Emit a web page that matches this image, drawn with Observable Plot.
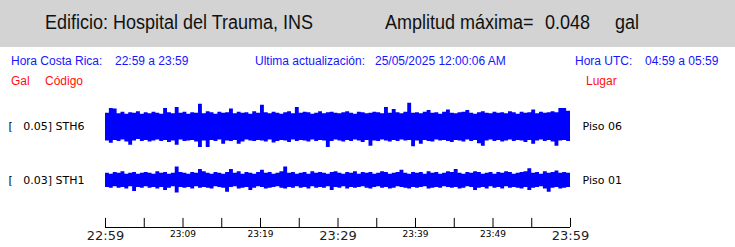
<!DOCTYPE html>
<html>
<head>
<meta charset="utf-8">
<script src="https://cdn.jsdelivr.net/npm/d3@7"></script>
<script src="https://cdn.jsdelivr.net/npm/@observablehq/plot@0.6"></script>
<style>
  html, body { margin: 0; padding: 0; background: #fff; }
  #page { position: relative; width: 735px; height: 247px; overflow: hidden; font-family: "Liberation Sans", Arial, sans-serif; }
  #band { position: absolute; left: 0; top: 0; width: 735px; height: 47px; background: #d3d3d3; }
  .t { position: absolute; white-space: pre; }
  .h { font-size: 20px; line-height: 20px; color: #111; transform: scaleX(0.9); transform-origin: left center; }
  .b { font-size: 12px; line-height: 12px; color: #1515ff; }
  .r { font-size: 12px; line-height: 12px; color: #ff1010; }
  #chart { position: absolute; left: 0; top: 90px; }
  #chart svg text { white-space: pre; }
</style>
</head>
<body>
<div id="page">
  <div id="band"></div>
  <div id="chart"></div>
</div>
<script>
// ---- header texts ----
const building = "Hospital del Trauma, INS";
const maxAmplitude = 0.048;
const amplitudeUnit = "gal";
const localRange = "22:59 a 23:59";
const utcRange = "04:59 a 05:59";
const lastUpdate = "25/05/2025 12:00:06 AM";

// ---- channels ----
const codes = ["STH6", "STH1"];
const fullScales = [0.05, 0.03];          // gal, shown in brackets
const places = ["Piso 06", "Piso 01"];

// ---- time axis ----
const startTime = new Date(Date.UTC(2025, 4, 24, 22, 59));
const endTime = new Date(Date.UTC(2025, 4, 24, 23, 59));
const tickLabels = ["22:59", "23:09", "23:19", "23:29", "23:39", "23:49", "23:59"];

// ---- trace envelopes (max / min per 30 s window), milligal ----
const sth6Max = [
  29, 39, 38, 28, 31, 27, 30, 29, 32, 27,
  30, 28, 31, 29, 27, 39, 30, 28, 41, 29,
  31, 27, 30, 29, 48, 28, 32, 30, 27, 31,
  29, 30, 38, 28, 31, 29, 30, 27, 32, 29,
  46, 30, 28, 31, 29, 27, 30, 32, 28, 41,
  29, 31, 30, 27, 29, 32, 28, 30, 31, 29,
  28, 30, 32, 29, 27, 31, 30, 28, 29, 31,
  30, 28, 41, 29, 37, 30, 28, 31, 50, 29,
  30, 28, 31, 35, 29, 30, 27, 31, 36, 29,
  28, 30, 31, 35, 29, 27, 30, 32, 29, 28,
  31, 29, 30, 28, 32, 30, 27, 31, 29, 30,
  36, 28, 31, 29, 30, 32, 30, 39, 39, 33
];
const sth6Min = [
  -30, -35, -29, -31, -28, -32, -39, -30, -27, -31,
  -29, -32, -30, -28, -31, -29, -33, -30, -39, -28,
  -31, -30, -29, -32, -44, -30, -44, -29, -31, -28,
  -37, -30, -31, -29, -37, -32, -28, -30, -31, -29,
  -30, -32, -28, -34, -31, -29, -30, -33, -28, -31,
  -29, -30, -32, -28, -31, -29, -30, -44, -31, -28,
  -30, -32, -29, -31, -28, -30, -33, -29, -41, -30,
  -31, -28, -30, -32, -29, -31, -28, -30, -29, -42,
  -30, -37, -29, -31, -32, -28, -30, -29, -31, -33,
  -29, -30, -32, -28, -31, -29, -36, -41, -30, -28,
  -31, -29, -32, -30, -28, -31, -29, -30, -33, -29,
  -37, -30, -28, -31, -29, -32, -41, -30, -29, -31
];
const sth1Max = [
  9, 8, 10, 9, 11, 8, 9, 10, 8, 9,
  10, 9, 8, 11, 9, 10, 8, 9, 17, 10,
  9, 8, 10, 9, 14, 11, 9, 8, 10, 9,
  8, 10, 14, 9, 11, 8, 10, 9, 8, 10,
  13, 9, 10, 8, 9, 11, 17, 9, 10, 8,
  9, 10, 8, 11, 9, 10, 9, 8, 10, 11,
  9, 8, 10, 9, 11, 8, 10, 9, 10, 8,
  9, 11, 10, 8, 9, 10, 13, 9, 8, 10,
  9, 10, 8, 11, 9, 10, 8, 9, 11, 10,
  14, 9, 8, 10, 9, 11, 10, 8, 9, 10,
  8, 10, 9, 11, 10, 8, 9, 10, 11, 15,
  9, 10, 8, 11, 9, 10, 12, 9, 10, 9
];
const sth1Min = [
  -9, -10, -8, -10, -9, -11, -8, -14, -9, -10,
  -8, -10, -9, -11, -9, -13, -10, -8, -16, -9,
  -10, -9, -11, -8, -10, -9, -10, -11, -8, -9,
  -10, -15, -9, -8, -11, -10, -9, -13, -10, -8,
  -9, -11, -10, -9, -8, -10, -11, -9, -10, -8,
  -10, -9, -11, -8, -10, -9, -10, -8, -13, -9,
  -10, -8, -11, -9, -10, -9, -8, -10, -11, -9,
  -8, -10, -9, -11, -10, -8, -9, -10, -11, -9,
  -10, -9, -8, -11, -10, -9, -10, -8, -9, -10,
  -9, -11, -10, -8, -9, -13, -10, -9, -11, -8,
  -10, -9, -11, -8, -10, -9, -10, -11, -9, -13,
  -10, -9, -8, -11, -15, -10, -9, -11, -10, -9
];
const envelopes = [[sth6Max, sth6Min], [sth1Max, sth1Min]];

// ---- HTML header ----
const page = document.getElementById("page");
function put(cls, text, left, top) {
  const s = document.createElement("span");
  s.className = "t " + cls;
  s.textContent = text;
  s.style.left = left + "px";
  s.style.top = top + "px";
  page.appendChild(s);
}
put("h", "Edificio: " + building, 45, 12);
put("h", "Amplitud máxima=", 385, 12);
put("h", maxAmplitude.toFixed(3), 545, 12);
put("h", amplitudeUnit, 615, 12);
put("b", "Hora Costa Rica:", 11, 55);
put("b", localRange, 115, 55);
put("b", "Ultima actualización:", 255, 55);
put("b", lastUpdate, 375, 55);
put("b", "Hora UTC:", 575, 55);
put("b", utcRange, 645, 55);
put("r", "Gal", 11, 75);
put("r", "Código", 45, 75);
put("r", "Lugar", 586, 75);

// ---- build trace data (normalised to each channel's bracket scale, stacked by row) ----
const halfHeight = 0.44;     // row units occupied by the full-scale amplitude
const nRows = codes.length;
const step = 30 * 1000;
const traces = [];
codes.forEach((code, c) => {
  const row = nRows - 1 - c;
  const [hi, lo] = envelopes[c];
  const s = fullScales[c] * 1000;
  hi.forEach((h, i) => {
    traces.push({code, t: new Date(+startTime + i * step), y1: row + lo[i] / s * halfHeight, y2: row + h / s * halfHeight});
  });
  const last = hi.length - 1;
  traces.push({code, t: endTime, y1: row + lo[last] / s * halfHeight, y2: row + hi[last] / s * halfHeight});
});
const channels = codes.map((code, c) => ({
  row: nRows - 1 - c,
  left: `[   ${fullScales[c].toFixed(2)}] ${code}`,
  right: places[c]
}));

const yMin = -0.88, yMax = 1.68, tickLen = 0.17;
const tickTimes = d3.range(13).map(i => new Date(+startTime + i * 5 * 60 * 1000));
const labels = tickLabels.map((label, i) => ({t: new Date(+startTime + i * 10 * 60 * 1000), label, big: i % 3 === 0}));

const chart = Plot.plot({
  width: 735,
  height: 157,
  marginLeft: 105,
  marginRight: 165,
  marginTop: 0,
  marginBottom: 20,
  style: {fontFamily: "DejaVu Sans", background: "transparent", overflow: "visible"},
  x: {type: "utc", domain: [startTime, endTime], axis: null},
  y: {domain: [yMin, yMax], axis: null},
  marks: [
    Plot.areaY(traces, {x: "t", y1: "y1", y2: "y2", z: "code", curve: "step-after", fill: "#0000ff"}),
    Plot.text(channels, {y: "row", text: "left", frameAnchor: "left", dx: -97, textAnchor: "start", fontSize: 11, fill: "#000"}),
    Plot.text(channels, {y: "row", text: "right", frameAnchor: "right", dx: 12, textAnchor: "start", fontSize: 11, fill: "#000"}),
    Plot.ruleY([yMin], {stroke: "#000", strokeWidth: 1}),
    Plot.ruleX(tickTimes, {x: d => d, y1: yMin, y2: yMin + tickLen, stroke: "#000", strokeWidth: 1}),
    Plot.text(labels.filter(d => d.big), {x: "t", y: yMin, text: "label", lineAnchor: "top", dy: 3, fontSize: 13, fill: "#222"}),
    Plot.text(labels.filter(d => !d.big), {x: "t", y: yMin, text: "label", lineAnchor: "top", dy: 3, fontSize: 9, fill: "#000"})
  ]
});
document.getElementById("chart").appendChild(chart);
</script>
</body>
</html>
